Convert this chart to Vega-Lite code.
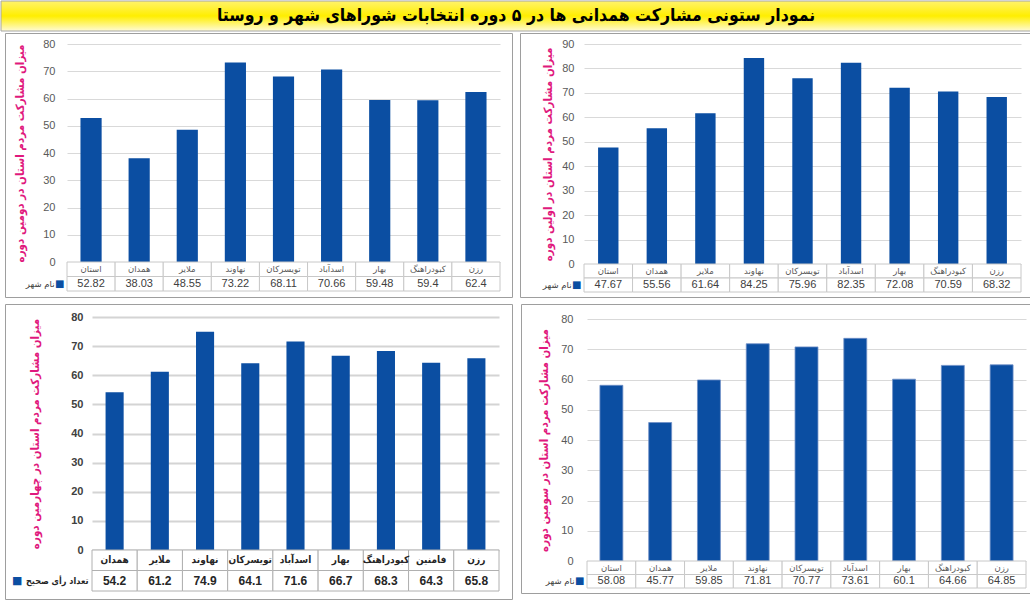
{
  "$schema": "https://vega.github.io/schema/vega-lite/v6.json",
  "padding": 0,
  "background": "white",
  "config": {
    "view": {"stroke": null},
    "font": "DejaVu Sans",
    "axis": {
      "labelFont": "Liberation Sans",
      "labelFontSize": 11,
      "labelColor": "#595959",
      "domain": false,
      "ticks": false,
      "gridColor": "#d9d9d9",
      "titleFont": "DejaVu Sans Condensed",
      "titleFontWeight": "bold",
      "titleFontSize": 11.5,
      "titleColor": "#e0197d"
    }
  },
  "datasets": {
    "d1": [
      {"city": "استان", "value": 47.67},
      {"city": "همدان", "value": 55.56},
      {"city": "ملایر", "value": 61.64},
      {"city": "نهاوند", "value": 84.25},
      {"city": "تویسرکان", "value": 75.96},
      {"city": "اسدآباد", "value": 82.35},
      {"city": "بهار", "value": 72.08},
      {"city": "کبودراهنگ", "value": 70.59},
      {"city": "رزن", "value": 68.32}
    ],
    "d2": [
      {"city": "استان", "value": 52.82},
      {"city": "همدان", "value": 38.03},
      {"city": "ملایر", "value": 48.55},
      {"city": "نهاوند", "value": 73.22},
      {"city": "تویسرکان", "value": 68.11},
      {"city": "اسدآباد", "value": 70.66},
      {"city": "بهار", "value": 59.48},
      {"city": "کبودراهنگ", "value": 59.4},
      {"city": "رزن", "value": 62.4}
    ],
    "d3": [
      {"city": "استان", "value": 58.08},
      {"city": "همدان", "value": 45.77},
      {"city": "ملایر", "value": 59.85},
      {"city": "نهاوند", "value": 71.81},
      {"city": "تویسرکان", "value": 70.77},
      {"city": "اسدآباد", "value": 73.61},
      {"city": "بهار", "value": 60.1},
      {"city": "کبودراهنگ", "value": 64.66},
      {"city": "رزن", "value": 64.85}
    ],
    "d4": [
      {"city": "همدان", "value": 54.2},
      {"city": "ملایر", "value": 61.2},
      {"city": "نهاوند", "value": 74.9},
      {"city": "تویسرکان", "value": 64.1},
      {"city": "اسدآباد", "value": 71.6},
      {"city": "بهار", "value": 66.7},
      {"city": "کبودراهنگ", "value": 68.3},
      {"city": "فامنین", "value": 64.3},
      {"city": "رزن", "value": 65.8}
    ]
  },
  "spacing": 5,
  "vconcat": [
    {
      "spacing": 0,
      "vconcat": [
        {
          "width": 1030,
          "height": 30,
          "data": {"values": [{"t": "نمودار ستونی مشارکت همدانی ها در ۵ دوره انتخابات شوراهای شهر و روستا"}]},
          "layer": [
            {
              "mark": {
                "type": "rect",
                "fill": {
                  "gradient": "linear",
                  "x1": 0, "y1": 0, "x2": 0, "y2": 1,
                  "stops": [
                    {"offset": 0, "color": "#fff36b"},
                    {"offset": 0.5, "color": "#ffee00"},
                    {"offset": 1, "color": "#fffbd6"}
                  ]
                },
                "stroke": "#a6a6a6",
                "strokeWidth": 1
              },
              "encoding": {
                "x": {"value": 0},
                "x2": {"value": "width"},
                "y": {"value": 0},
                "y2": {"value": "height"}
              }
            },
            {
              "mark": {"type": "text", "font": "DejaVu Sans Condensed", "fontSize": 17.5, "fontWeight": "bold", "color": "black"},
              "encoding": {"text": {"field": "t"}}
            }
          ]
        },
        {
          "spacing": 0,
          "hconcat": [
            {"width": 3, "height": 1, "mark": "rect", "data": {"values": []}},
            {
              "data": {"name": "d2"},
              "width": 507,
              "height": 264,
              "view": {"stroke": "#9e9e9e", "strokeWidth": 1},
              "layer": [
                {
                  "mark": {"type": "bar", "color": "#0b4ea2"},
                  "encoding": {
                    "x": {"field": "city", "type": "nominal", "sort": null, "axis": null, "scale": {"paddingInner": 0.56, "paddingOuter": 0.28, "range": [62, 495]}},
                    "y": {
                      "field": "value", "type": "quantitative",
                      "scale": {"domain": [0, 80], "nice": false, "range": [229, 11]},
                      "axis": {"title": "میزان مشارکت مردم استان در دومین دوره", "offset": -62, "values": [0, 10, 20, 30, 40, 50, 60, 70, 80], "labelPadding": 12, "titlePadding": 17, "grid": true}
                    }
                  }
                },
                {
                  "transform": [{"fold": ["city", "value"], "as": ["row", "cell"]}],
                  "encoding": {"x": {"field": "city", "type": "nominal", "sort": null, "axis": null, "scale": {"padding": 0, "range": [62, 495]}}},
                  "layer": [
                    {
                      "mark": {"type": "rect", "fill": "white", "stroke": "#c8c8c8", "strokeWidth": 1},
                      "encoding": {"y": {"field": "row", "type": "nominal", "sort": ["city", "value"], "scale": {"padding": 0, "range": [229, 258]}, "axis": {"orient": "left", "offset": -62, "title": null, "labelExpr": "datum.value === 'value' ? '■' : ''", "labelColor": "#0b4ea2", "labelFont": "DejaVu Sans", "labelFontSize": 10, "labelPadding": 3}}}
                    },
                    {
                      "transform": [{"filter": "datum.row === 'city'"}],
                      "mark": {"type": "text", "fontSize": 8.5, "color": "#595959", "font": "DejaVu Sans"},
                      "encoding": {"y": {"field": "row", "type": "nominal", "sort": ["city", "value"], "scale": {"padding": 0, "range": [229, 258]}, "axis": null}, "text": {"field": "cell", "type": "nominal"}}
                    },
                    {
                      "transform": [{"filter": "datum.row === 'value'"}],
                      "mark": {"type": "text", "fontSize": 11, "color": "#404040", "font": "Liberation Sans"},
                      "encoding": {"y": {"field": "row", "type": "nominal", "sort": ["city", "value"], "scale": {"padding": 0, "range": [229, 258]}, "axis": {"orient": "left", "offset": -62, "title": null, "labelExpr": "datum.value === 'value' ? 'نام شهر' : ''", "labelColor": "#404040", "labelFont": "DejaVu Sans", "labelFontSize": 8.5, "labelPadding": 13}}, "text": {"field": "cell", "type": "nominal"}}
                    }
                  ],
                  "resolve": {"axis": {"y": "independent"}}
                }
              ],
              "resolve": {"scale": {"x": "independent", "y": "independent"}}
            },
            {"width": 6, "height": 1, "mark": "rect", "data": {"values": []}},
            {
              "data": {"name": "d1"},
              "width": 511,
              "height": 264,
              "view": {"stroke": "#9e9e9e", "strokeWidth": 1},
              "layer": [
                {
                  "mark": {"type": "bar", "color": "#0b4ea2"},
                  "encoding": {
                    "x": {"field": "city", "type": "nominal", "sort": null, "axis": null, "scale": {"paddingInner": 0.58, "paddingOuter": 0.29, "range": [64, 501]}},
                    "y": {
                      "field": "value", "type": "quantitative",
                      "scale": {"domain": [0, 90], "nice": false, "range": [231, 11]},
                      "axis": {"title": "میزان مشارکت مردم استان در اولین دوره", "offset": -64, "values": [0, 10, 20, 30, 40, 50, 60, 70, 80, 90], "labelPadding": 10, "titlePadding": 8, "grid": true}
                    }
                  }
                },
                {
                  "transform": [{"fold": ["city", "value"], "as": ["row", "cell"]}],
                  "encoding": {"x": {"field": "city", "type": "nominal", "sort": null, "axis": null, "scale": {"padding": 0, "range": [64, 501]}}},
                  "layer": [
                    {
                      "mark": {"type": "rect", "fill": "white", "stroke": "#c8c8c8", "strokeWidth": 1},
                      "encoding": {"y": {"field": "row", "type": "nominal", "sort": ["city", "value"], "scale": {"padding": 0, "range": [231, 259]}, "axis": {"orient": "left", "offset": -64, "title": null, "labelExpr": "datum.value === 'value' ? '■' : ''", "labelColor": "#0b4ea2", "labelFont": "DejaVu Sans", "labelFontSize": 10, "labelPadding": 3}}}
                    },
                    {
                      "transform": [{"filter": "datum.row === 'city'"}],
                      "mark": {"type": "text", "fontSize": 8.5, "color": "#595959", "font": "DejaVu Sans"},
                      "encoding": {"y": {"field": "row", "type": "nominal", "sort": ["city", "value"], "scale": {"padding": 0, "range": [231, 259]}, "axis": null}, "text": {"field": "cell", "type": "nominal"}}
                    },
                    {
                      "transform": [{"filter": "datum.row === 'value'"}],
                      "mark": {"type": "text", "fontSize": 11, "color": "#404040", "font": "Liberation Sans"},
                      "encoding": {"y": {"field": "row", "type": "nominal", "sort": ["city", "value"], "scale": {"padding": 0, "range": [231, 259]}, "axis": {"orient": "left", "offset": -64, "title": null, "labelExpr": "datum.value === 'value' ? 'نام شهر' : ''", "labelColor": "#404040", "labelFont": "DejaVu Sans", "labelFontSize": 8.5, "labelPadding": 13}}, "text": {"field": "cell", "type": "nominal"}}
                    }
                  ],
                  "resolve": {"axis": {"y": "independent"}}
                }
              ],
              "resolve": {"scale": {"x": "independent", "y": "independent"}}
            }
          ]
        }
      ]
    },
    {
      "spacing": 0,
      "hconcat": [
        {"width": 3, "height": 1, "mark": "rect", "data": {"values": []}},
        {
          "data": {"name": "d4"},
          "width": 507,
          "height": 295,
          "view": {"stroke": "#9e9e9e", "strokeWidth": 1},
          "layer": [
            {
              "mark": {"type": "bar", "color": "#0b4ea2"},
              "encoding": {
                "x": {"field": "city", "type": "nominal", "sort": null, "axis": null, "scale": {"paddingInner": 0.6, "paddingOuter": 0.3, "range": [87, 494]}},
                "y": {
                  "field": "value", "type": "quantitative",
                  "scale": {"domain": [0, 80], "nice": false, "range": [246, 13]},
                  "axis": {"title": "میزان مشارکت مردم استان در چهارمین دوره", "offset": -87, "values": [0, 10, 20, 30, 40, 50, 60, 70, 80], "labelPadding": 9, "labelFontWeight": "bold", "labelColor": "#404040", "titlePadding": 30, "grid": true, "gridWidth": 2, "gridColor": "#d4d4d4"}
                }
              }
            },
            {
              "transform": [{"fold": ["city", "value"], "as": ["row", "cell"]}],
              "encoding": {"x": {"field": "city", "type": "nominal", "sort": null, "axis": null, "scale": {"padding": 0, "range": [87, 494]}}},
              "layer": [
                {
                  "mark": {"type": "rect", "fill": "white", "stroke": "#b0b0b0", "strokeWidth": 1},
                  "encoding": {"y": {"field": "row", "type": "nominal", "sort": ["city", "value"], "scale": {"padding": 0, "range": [246, 287]}, "axis": {"orient": "left", "offset": -87, "title": null, "labelExpr": "datum.value === 'value' ? 'تعداد رأی صحیح' : ''", "labelColor": "#262626", "labelFont": "DejaVu Sans Condensed", "labelFontWeight": "bold", "labelFontSize": 9, "labelPadding": 4}}}
                },
                {
                  "transform": [{"filter": "datum.row === 'city'"}],
                  "mark": {"type": "text", "fontSize": 10, "fontWeight": "bold", "color": "#262626", "font": "DejaVu Sans Condensed"},
                  "encoding": {"y": {"field": "row", "type": "nominal", "sort": ["city", "value"], "scale": {"padding": 0, "range": [246, 287]}, "axis": null}, "text": {"field": "cell", "type": "nominal"}}
                },
                {
                  "transform": [{"filter": "datum.row === 'value'"}],
                  "mark": {"type": "text", "fontSize": 12, "fontWeight": "bold", "color": "#262626", "font": "Liberation Sans"},
                  "encoding": {"y": {"field": "row", "type": "nominal", "sort": ["city", "value"], "scale": {"padding": 0, "range": [246, 287]}, "axis": {"orient": "left", "offset": -87, "title": null, "labelExpr": "datum.value === 'value' ? '■' : ''", "labelColor": "#0b4ea2", "labelFont": "DejaVu Sans", "labelFontSize": 11, "labelPadding": 70}}, "text": {"field": "cell", "type": "nominal"}}
                }
              ],
              "resolve": {"axis": {"y": "independent"}}
            }
          ],
          "resolve": {"scale": {"x": "independent", "y": "independent"}}
        },
        {"width": 7, "height": 1, "mark": "rect", "data": {"values": []}},
        {
          "data": {"name": "d3"},
          "width": 511,
          "height": 289,
          "view": {"stroke": "#9e9e9e", "strokeWidth": 1},
          "layer": [
            {
              "mark": {"type": "bar", "color": "#0b4ea2", "stroke": "#6f8fc7", "strokeWidth": 0.8},
              "encoding": {
                "x": {"field": "city", "type": "nominal", "sort": null, "axis": null, "scale": {"paddingInner": 0.53, "paddingOuter": 0.265, "range": [66, 505]}},
                "y": {
                  "field": "value", "type": "quantitative",
                  "scale": {"domain": [0, 80], "nice": false, "range": [257, 15]},
                  "axis": {"title": "میزان مشارکت مردم استان در سومین دوره", "offset": -66, "values": [0, 10, 20, 30, 40, 50, 60, 70, 80], "labelPadding": 14, "titlePadding": 11, "grid": true}
                }
              }
            },
            {
              "transform": [{"fold": ["city", "value"], "as": ["row", "cell"]}],
              "encoding": {"x": {"field": "city", "type": "nominal", "sort": null, "axis": null, "scale": {"padding": 0, "range": [66, 505]}}},
              "layer": [
                {
                  "mark": {"type": "rect", "fill": "white", "stroke": "#c8c8c8", "strokeWidth": 1},
                  "encoding": {"y": {"field": "row", "type": "nominal", "sort": ["city", "value"], "scale": {"padding": 0, "range": [257, 284]}, "axis": {"orient": "left", "offset": -66, "title": null, "labelExpr": "datum.value === 'value' ? '■' : ''", "labelColor": "#0b4ea2", "labelFont": "DejaVu Sans", "labelFontSize": 10, "labelPadding": 3}}}
                },
                {
                  "transform": [{"filter": "datum.row === 'city'"}],
                  "mark": {"type": "text", "fontSize": 8.5, "color": "#595959", "font": "DejaVu Sans"},
                  "encoding": {"y": {"field": "row", "type": "nominal", "sort": ["city", "value"], "scale": {"padding": 0, "range": [257, 284]}, "axis": null}, "text": {"field": "cell", "type": "nominal"}}
                },
                {
                  "transform": [{"filter": "datum.row === 'value'"}],
                  "mark": {"type": "text", "fontSize": 11, "color": "#404040", "font": "Liberation Sans"},
                  "encoding": {"y": {"field": "row", "type": "nominal", "sort": ["city", "value"], "scale": {"padding": 0, "range": [257, 284]}, "axis": {"orient": "left", "offset": -66, "title": null, "labelExpr": "datum.value === 'value' ? 'نام شهر' : ''", "labelColor": "#404040", "labelFont": "DejaVu Sans", "labelFontSize": 8.5, "labelPadding": 13}}, "text": {"field": "cell", "type": "nominal"}}
                }
              ],
              "resolve": {"axis": {"y": "independent"}}
            }
          ],
          "resolve": {"scale": {"x": "independent", "y": "independent"}}
        }
      ]
    }
  ]
}
